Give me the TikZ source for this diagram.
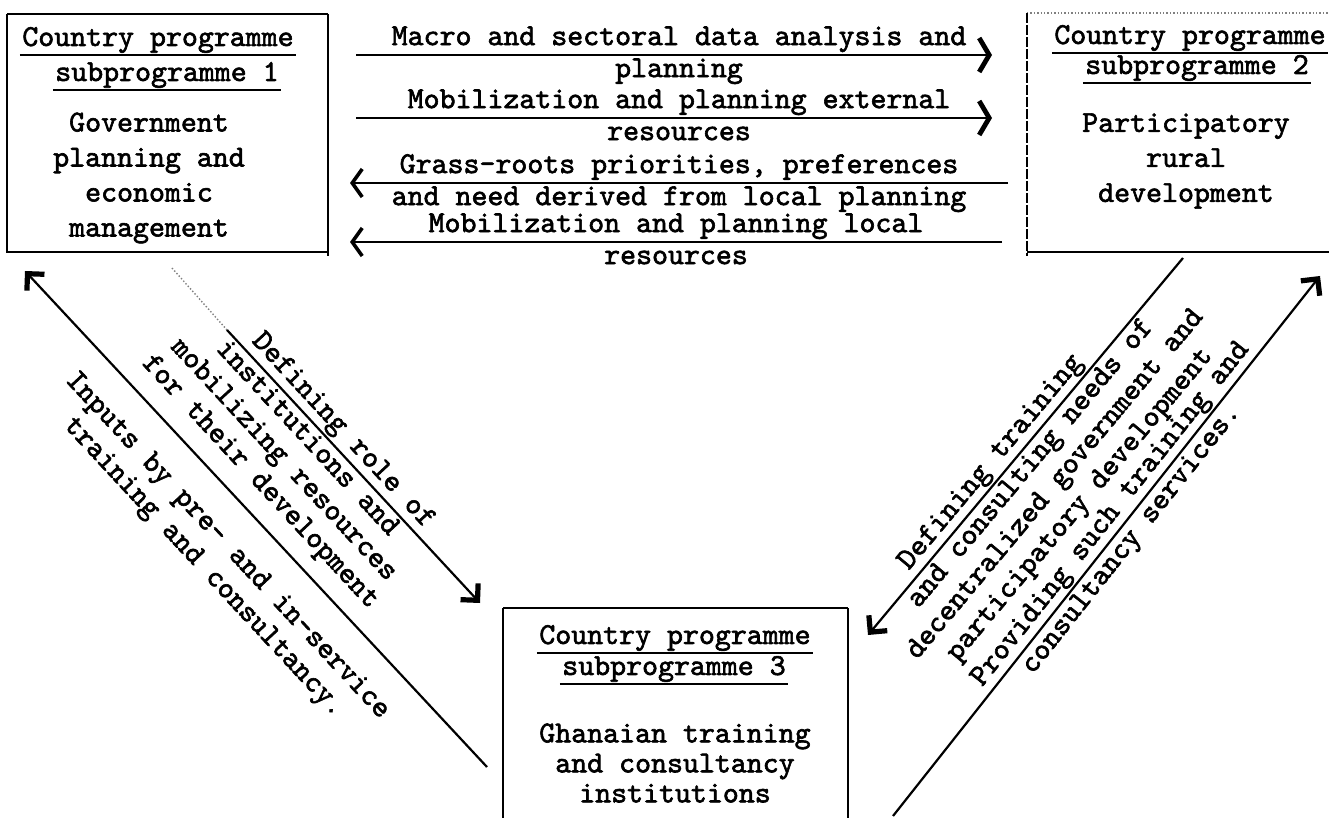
\documentclass[tikz,border=0pt]{standalone}
\usepackage{fontspec}
\usetikzlibrary{arrows.meta}
\newfontfamily\twfont{lmmono10-regular.otf}[FakeBold=2]

\begin{document}
\begin{tikzpicture}[x=0.5pt,y=-0.5pt,
  txt/.style={font=\twfont\fontsize{15.2}{#1}\selectfont},
  txt/.default=16,
  every node/.style={txt,inner sep=1pt},
  lbl/.style={text height=9.5pt,text depth=3.4pt},
  blk/.style={align=center},
  uline/.style={line width=1.1pt},
  head/.style={append after command={(\tikzlastnode.south west) edge[uline] (\tikzlastnode.south east)}},
  frame/.style={line width=1.1pt},
  conn/.style={line width=1.1pt},
  faint/.style={gray,densely dotted,line width=.7pt},
  chev/.style={-{Straight Barb[length=5pt,width=17pt,line width=2.4pt,sep=5pt]}},
  barb/.style={-{Straight Barb[length=5pt,width=14pt,line width=1.8pt]}},
  heavy/.style={-{Straight Barb[length=6pt,width=12pt,line width=2.6pt]}}]
\useasboundingbox (0,0) rectangle (1329,818);
\fill[white] (0,0) rectangle (1329,818);

\draw[frame] (7,14) -- (7,252) -- (328,252) (7,14) -- (328,14);
\draw[line width=.8pt] (328,14) -- (328,256);
\node[head] (h1a) at (158,40) {Country programme};
\node[head] (h1b) at (167,75) {subprogramme 1};
\node[blk,txt=17.5] (b1) at (149,178) {Government\\planning and\\economic\\management};

\draw[faint] (1027,13) -- (1329,13);
\draw[line width=.6pt,dash pattern=on 5pt off 1pt] (1027,13) -- (1027,256);
\draw[frame] (1027,252) -- (1329,252);
\node[head] (h2a) at (1190,38) {Country programme};
\node[head] (h2b) at (1197,68) {subprogramme 2};
\node[blk,txt=17.5] (b2) at (1186,161) {Participatory\\rural\\development};

\draw[frame] (503,608) -- (848,608);
\draw[line width=.7pt] (503,608) -- (503,818) (848,608) -- (848,818);
\node[head] (h3a) at (675,638) {Country programme};
\node[head] (h3b) at (674,669) {subprogramme 3};
\node[blk,txt=15] (b3) at (675,763) {Ghanaian training\\and consultancy\\institutions};

\foreach \i/\y/\xa/\xb/\tp/\up/\dn in {
  1/55/356/1002/chev/{Macro and sectoral data analysis and}/planning,
  2/118/356/1002/chev/{Mobilization and planning external}/resources,
  3/183/1008/350/barb/{Grass-roots priorities, preferences}/{and need derived from local planning},
  4/242/1002/350/barb/{Mobilization and planning local}/resources}{
  \coordinate (ma\i) at (\xa,\y);
  \coordinate (mb\i) at (\xb,\y);
  \draw[conn,\tp] (ma\i) -- (mb\i)
    node[lbl,midway,above] {\up} node[lbl,midway,below] {\dn};
}

\coordinate (dfA) at (172,268);
\coordinate (dfB) at (227,330);
\coordinate (dfC) at (480,603);
\draw[faint] (dfA) -- (dfB);
\draw[conn,heavy] (dfB) -- (dfC)
  node[lbl,pos=.41,sloped,above] {Defining role of}
  node[blk,pos=.36,sloped,below] {institutions and\\mobilizing resources\\for their development};

\coordinate (inA) at (487,767);
\coordinate (inB) at (25,271);
\draw[conn,heavy] (inA) -- (inB)
  node[blk,pos=.5,sloped,below=12pt] {Inputs by pre- and in-service\\training and consultancy.};

\coordinate (ntA) at (1183,258);
\coordinate (ntB) at (868,635);
\draw[conn,heavy] (ntA) -- (ntB)
  node[lbl,pos=.57,sloped,above] {Defining training}
  node[blk,pos=.52,sloped,below] {and consulting needs of\\decentralized government and\\participatory development};

\coordinate (pvA) at (893,816);
\coordinate (pvB) at (1320,276);
\draw[conn,heavy] (pvA) -- (pvB)
  node[lbl,pos=.54,sloped,above] {Providing such training and}
  node[lbl,pos=.53,sloped,below] {consultancy services.};
\end{tikzpicture}
\end{document}
